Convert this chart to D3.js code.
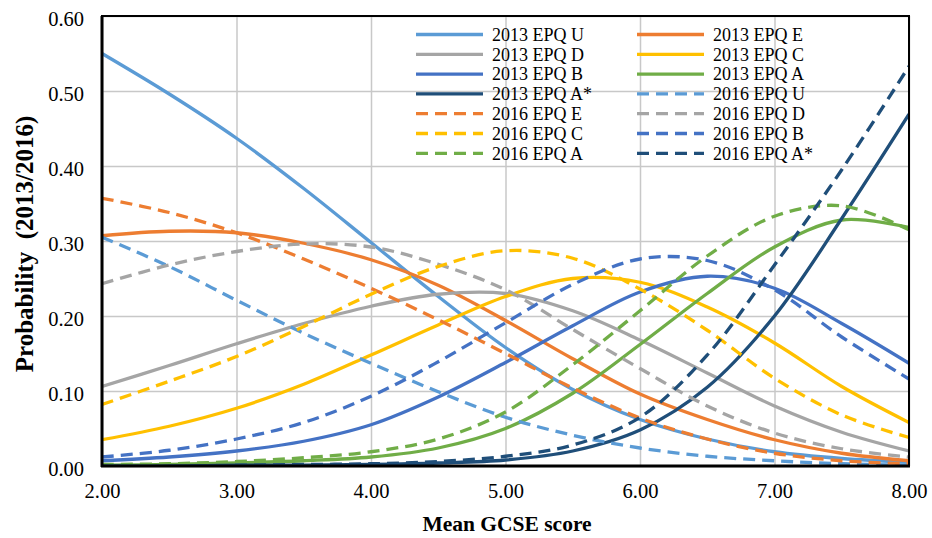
<!DOCTYPE html>
<html>
<head>
<meta charset="utf-8">
<script src="https://cdn.jsdelivr.net/npm/d3@7"></script>
<style>
  html, body { margin: 0; padding: 0; background: #fff; }
  svg { display: block; }
  svg text { font-family: "Liberation Serif", "Times New Roman", "DejaVu Serif", serif !important; fill: #000; }
</style>
</head>
<body>
<svg id="chart" width="932" height="538"></svg>
<script>
// ---- data ----
const xValues = [2.0, 2.5, 3.0, 3.5, 4.0, 4.5, 5.0, 5.5, 6.0, 6.5, 7.0, 7.5, 8.0];
const xTicks = [2, 3, 4, 5, 6, 7, 8];
const yTicks = [0, 0.1, 0.2, 0.3, 0.4, 0.5, 0.6];

const grades = ["U", "E", "D", "C", "B", "A", "A*"];

const p2013U  = [0.550, 0.496, 0.437, 0.370, 0.298, 0.226, 0.158, 0.102, 0.062, 0.036, 0.019, 0.010, 0.005];
const p2013E  = [0.307, 0.313, 0.311, 0.297, 0.275, 0.241, 0.194, 0.143, 0.096, 0.062, 0.035, 0.017, 0.007];
const p2013D  = [0.106, 0.134, 0.163, 0.190, 0.213, 0.229, 0.230, 0.207, 0.168, 0.124, 0.080, 0.045, 0.020];
const p2013C  = [0.035, 0.053, 0.077, 0.109, 0.148, 0.188, 0.226, 0.250, 0.245, 0.212, 0.164, 0.106, 0.058];
const p2013B  = [0.007, 0.012, 0.020, 0.033, 0.055, 0.092, 0.138, 0.187, 0.232, 0.253, 0.237, 0.190, 0.137];
const p2013A  = [0.001, 0.002, 0.004, 0.007, 0.012, 0.024, 0.050, 0.097, 0.162, 0.230, 0.292, 0.328, 0.318];
const p2013As = [0.000, 0.000, 0.001, 0.001, 0.002, 0.004, 0.008, 0.020, 0.048, 0.105, 0.200, 0.330, 0.469];

const p2016U  = [0.305, 0.266, 0.221, 0.177, 0.137, 0.099, 0.065, 0.041, 0.024, 0.013, 0.007, 0.003, 0.001];
const p2016E  = [0.357, 0.338, 0.311, 0.276, 0.237, 0.195, 0.150, 0.104, 0.064, 0.036, 0.017, 0.007, 0.003];
const p2016D  = [0.243, 0.268, 0.286, 0.296, 0.292, 0.269, 0.235, 0.182, 0.130, 0.080, 0.044, 0.023, 0.012];
const p2016C  = [0.082, 0.113, 0.146, 0.186, 0.229, 0.266, 0.287, 0.277, 0.236, 0.181, 0.117, 0.068, 0.038];
const p2016B  = [0.012, 0.021, 0.036, 0.058, 0.093, 0.139, 0.191, 0.242, 0.276, 0.274, 0.235, 0.172, 0.116];
const p2016A  = [0.002, 0.003, 0.006, 0.011, 0.019, 0.036, 0.072, 0.135, 0.207, 0.280, 0.333, 0.347, 0.315];
const p2016As = [0.000, 0.000, 0.001, 0.002, 0.003, 0.006, 0.013, 0.028, 0.065, 0.148, 0.268, 0.395, 0.533];

const gradeColors = ["#5B9BD5", "#ED7D31", "#A5A5A5", "#FFC000", "#4472C4", "#70AD47", "#1F4E79"];

const series = [
  { name: "2013 EPQ U",  values: p2013U,  grade: 0, dashed: false },
  { name: "2013 EPQ E",  values: p2013E,  grade: 1, dashed: false },
  { name: "2013 EPQ D",  values: p2013D,  grade: 2, dashed: false },
  { name: "2013 EPQ C",  values: p2013C,  grade: 3, dashed: false },
  { name: "2013 EPQ B",  values: p2013B,  grade: 4, dashed: false },
  { name: "2013 EPQ A",  values: p2013A,  grade: 5, dashed: false },
  { name: "2013 EPQ A*", values: p2013As, grade: 6, dashed: false },
  { name: "2016 EPQ U",  values: p2016U,  grade: 0, dashed: true },
  { name: "2016 EPQ E",  values: p2016E,  grade: 1, dashed: true },
  { name: "2016 EPQ D",  values: p2016D,  grade: 2, dashed: true },
  { name: "2016 EPQ C",  values: p2016C,  grade: 3, dashed: true },
  { name: "2016 EPQ B",  values: p2016B,  grade: 4, dashed: true },
  { name: "2016 EPQ A",  values: p2016A,  grade: 5, dashed: true },
  { name: "2016 EPQ A*", values: p2016As, grade: 6, dashed: true }
];

// ---- layout ----
const FONT = "'Liberation Serif', 'Times New Roman', 'DejaVu Serif', serif";
const svg = d3.select("#chart");
const pLeft = 102, pRight = 909, pTop = 16, pBottom = 466;
const x = d3.scaleLinear().domain([2, 8]).range([pLeft, pRight]);
const y = d3.scaleLinear().domain([0, 0.6]).range([pBottom, pTop]);
const fmt = d3.format(".2f");
const dash = "12,7";
const lineW = 3.3;

// gridlines
svg.append("g")
  .attr("transform", `translate(0,${pBottom})`)
  .call(d3.axisBottom(x).tickValues(xTicks).tickSize(-(pBottom - pTop)).tickFormat(""))
  .call(g => g.select(".domain").remove())
  .call(g => g.selectAll("line").attr("stroke", "#c8c8c8").attr("stroke-width", 1.5));
svg.append("g")
  .attr("transform", `translate(${pLeft},0)`)
  .call(d3.axisLeft(y).tickValues(yTicks).tickSize(-(pRight - pLeft)).tickFormat(""))
  .call(g => g.select(".domain").remove())
  .call(g => g.selectAll("line").attr("stroke", "#c8c8c8").attr("stroke-width", 1.5));

// legend (transparent, drawn under lines)
const legend = svg.append("g");
const colX = [416, 637];
const rowY0 = 34.5, rowStep = 19.8;
series.forEach((s, i) => {
  const cx = colX[i % 2];
  const cy = rowY0 + Math.floor(i / 2) * rowStep;
  legend.append("line")
    .attr("x1", cx).attr("x2", cx + 67).attr("y1", cy).attr("y2", cy)
    .attr("stroke", gradeColors[s.grade]).attr("stroke-width", lineW)
    .attr("stroke-dasharray", s.dashed ? dash : null);
  legend.append("text")
    .attr("x", cx + 76).attr("y", cy).attr("dy", "0.35em")
    .style("font-family", FONT).style("font-size", "18px").text(s.name);
});

// lines
const line = d3.line()
  .x((d, i) => x(xValues[i]))
  .y(d => y(d))
  .curve(d3.curveCatmullRom.alpha(0.5));

svg.append("defs").append("clipPath").attr("id", "clip")
  .append("rect").attr("x", pLeft).attr("y", pTop - 2).attr("width", pRight - pLeft).attr("height", pBottom - pTop + 2);

svg.append("g").attr("clip-path", "url(#clip)")
  .selectAll("path").data(series).join("path")
  .attr("d", s => line(s.values))
  .attr("fill", "none")
  .attr("stroke", s => gradeColors[s.grade])
  .attr("stroke-width", lineW)
  .attr("stroke-dasharray", s => s.dashed ? dash : null);

// frame
svg.append("rect").attr("x", pLeft).attr("y", pTop).attr("width", pRight - pLeft).attr("height", pBottom - pTop)
  .attr("fill", "none").attr("stroke", "#000").attr("stroke-width", 2);
svg.append("line").attr("x1", pLeft).attr("x2", pLeft).attr("y1", pTop).attr("y2", pBottom + 1)
  .attr("stroke", "#000").attr("stroke-width", 3);
svg.append("line").attr("x1", pLeft - 1).attr("x2", pRight + 1).attr("y1", pBottom).attr("y2", pBottom)
  .attr("stroke", "#000").attr("stroke-width", 3);

// axis labels
const xAxis = svg.append("g").attr("transform", `translate(0,${pBottom})`)
  .call(d3.axisBottom(x).tickValues(xTicks).tickSize(0).tickPadding(0).tickFormat(fmt));
xAxis.attr("font-family", null).attr("font-size", null);
xAxis.select(".domain").remove();
xAxis.selectAll("text").attr("y", 32).attr("dy", 0)
  .style("font-family", FONT).style("font-size", "20.5px").attr("fill", "#000");

const yAxis = svg.append("g").attr("transform", `translate(${pLeft},0)`)
  .call(d3.axisLeft(y).tickValues(yTicks).tickSize(0).tickPadding(0).tickFormat(fmt));
yAxis.attr("font-family", null).attr("font-size", null);
yAxis.select(".domain").remove();
yAxis.selectAll("text").attr("x", -18).attr("dy", "0.48em")
  .style("font-family", FONT).style("font-size", "20.5px").attr("fill", "#000");

// titles
svg.append("text").attr("x", 507).attr("y", 531).attr("text-anchor", "middle")
  .style("font-family", FONT).style("font-size", "21.5px").style("font-weight", "bold")
  .text("Mean GCSE score");
svg.append("text").attr("transform", "translate(33,244) rotate(-90)").attr("text-anchor", "middle")
  .style("font-family", FONT).style("font-size", "25px").style("font-weight", "bold")
  .style("white-space", "pre").text("Probability  (2013/2016)");
</script>
</body>
</html>
